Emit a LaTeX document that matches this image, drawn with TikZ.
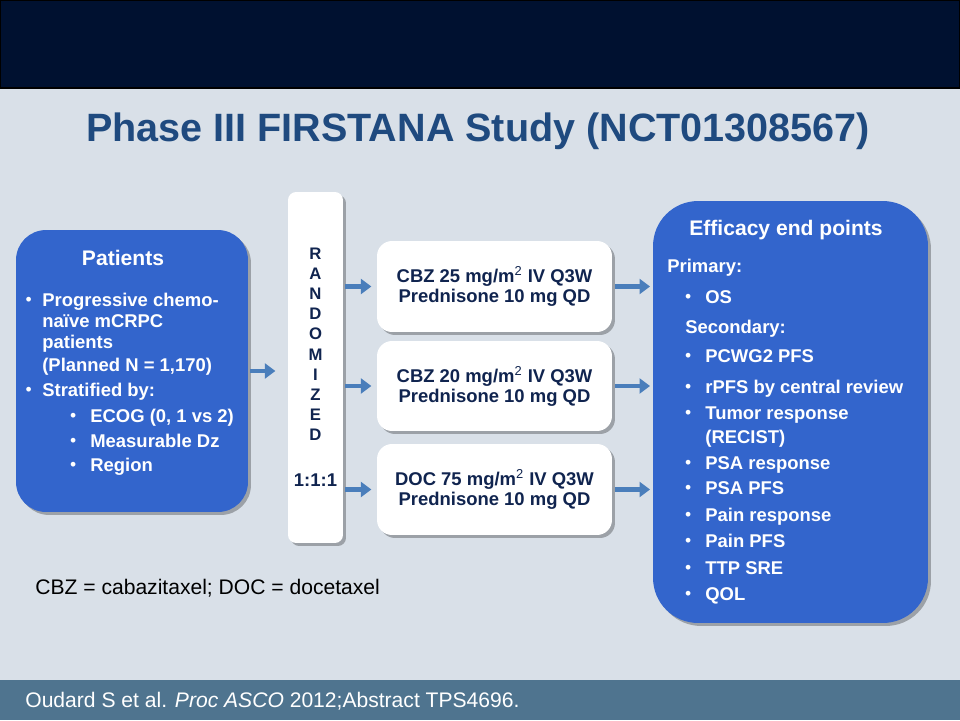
\documentclass[tikz,border=0pt]{standalone}
\usepackage{fontspec}
\setmainfont{Liberation Sans}
\usetikzlibrary{arrows.meta,shadows}

\definecolor{topband}{HTML}{001130}
\definecolor{slidebg}{HTML}{D9E0E8}
\definecolor{titleblue}{HTML}{1F4A7F}
\definecolor{boxblue}{HTML}{3365CC}
\definecolor{armnavy}{HTML}{10244F}
\definecolor{arrowblue}{HTML}{4A7EBB}
\definecolor{footband}{HTML}{4F748F}

% small bullet hung to the left of the item text
\newcommand\itm[1]{\llap{\raisebox{0.3pt}{\fontsize{10}{10}\selectfont\mdseries\textbullet}\hspace{#1}}}
\newcommand\sqm{\textsuperscript{\mdseries 2}}

\begin{document}
\begin{tikzpicture}[x=0.02cm,y=-0.02cm,
  boxshadow/.style={drop shadow={shadow xshift=1.7pt,shadow yshift=-1.7pt,fill=black,opacity=0.28}},
  bluebox/.style={fill=boxblue,boxshadow},
  whitebox/.style={fill=white,boxshadow},
  txt/.style={inner sep=0pt,anchor=base west,font=\fontsize{10.5}{12}\selectfont\bfseries},
  wtxt/.style={txt,text=white},
  head/.style={inner sep=0pt,anchor=base,text=white,font=\fontsize{12}{14}\selectfont\bfseries},
  armtxt/.style={align=center,text=armnavy,font=\fontsize{10.5}{11.4}\selectfont\bfseries},
  randletter/.style={inner sep=0pt,anchor=base,text=armnavy,font=\fontsize{9.5}{10}\selectfont\bfseries},
  flow/.style={draw=arrowblue,line width=2.3pt,-{Triangle[length=6pt,width=8.5pt]}}]

  % slide background and bands
  \useasboundingbox (0,0) rectangle (960,720);
  \fill[slidebg] (0,0) rectangle (960,720);
  \filldraw[fill=topband,draw=black,line width=0.8pt] (0,0) rectangle (960,88);
  \fill[footband] (0,680) rectangle (960,720);

  \node[inner sep=0pt,anchor=base,text=titleblue,font=\fontsize{22.5}{26}\selectfont\bfseries]
    (title) at (478,141) {Phase III FIRSTANA Study (NCT01308567)};

  % boxes
  \node[bluebox,rounded corners=0.6cm,minimum width=4.64cm,minimum height=5.64cm] (patients) at (132,371) {};
  \node[whitebox,rounded corners=0.16cm,minimum width=1.1cm,minimum height=7.02cm] (rand) at (315.5,367.5) {};
  \node[whitebox,rounded corners=0.3cm,minimum width=4.7cm,minimum height=1.82cm,armtxt] (armA) at (494.5,286.5)
    {CBZ 25 mg/m\sqm{} IV Q3W\\Prednisone 10 mg QD};
  \node[whitebox,rounded corners=0.3cm,minimum width=4.7cm,minimum height=1.8cm,armtxt] (armB) at (494.5,386)
    {CBZ 20 mg/m\sqm{} IV Q3W\\Prednisone 10 mg QD};
  \node[whitebox,rounded corners=0.3cm,minimum width=4.7cm,minimum height=1.82cm,armtxt] (armC) at (494.5,489.5)
    {DOC 75 mg/m\sqm{} IV Q3W\\Prednisone 10 mg QD};
  \node[bluebox,rounded corners=0.9cm,minimum width=5.5cm,minimum height=8.44cm] (efficacy) at (790.5,412) {};

  % patients text
  \node[head] (pthead) at (123,265) {Patients};
  \node[wtxt] (p1) at (42,306) {\itm{6pt}Progressive chemo-};
  \node[wtxt] (p2) at (42,327) {naïve mCRPC};
  \node[wtxt] (p3) at (42,348) {patients};
  \node[wtxt] (p4) at (42,371) {(Planned N = 1,170)};
  \node[wtxt] (p5) at (42,396) {\itm{6pt}Stratified by:};
  \node[wtxt] (p6) at (90,422) {\itm{8pt}ECOG (0, 1 vs 2)};
  \node[wtxt] (p7) at (90,447) {\itm{8pt}Measurable Dz};
  \node[wtxt] (p8) at (90,471) {\itm{8pt}Region};

  % randomization column
  \foreach \ch [count=\i from 0] in {R,A,N,D,O,M,I,Z,E,D}
    \node[randletter] (r\i) at (315.5,259+20.2*\i) {\ch};
  \node[txt,anchor=base,text=armnavy] (ratio) at (315.5,486) {1:1:1};

  % end points text
  \node[head] (efhead) at (786,235) {Efficacy end points};
  \node[wtxt] (e1) at (667,272) {Primary:};
  \node[wtxt] (e2) at (705,303) {\itm{8pt}OS};
  \node[wtxt] (e3) at (685,333) {Secondary:};
  \node[wtxt] (e4) at (705,362) {\itm{8pt}PCWG2 PFS};
  \node[wtxt] (e5) at (705,393) {\itm{8pt}rPFS by central review};
  \node[wtxt] (e6) at (705,419) {\itm{8pt}Tumor response};
  \node[wtxt] (e7) at (705,443) {(RECIST)};
  \node[wtxt] (e8) at (705,469) {\itm{8pt}PSA response};
  \node[wtxt] (e9) at (705,494) {\itm{8pt}PSA PFS};
  \node[wtxt] (e10) at (705,521) {\itm{8pt}Pain response};
  \node[wtxt] (e11) at (705,547) {\itm{8pt}Pain PFS};
  \node[wtxt] (e12) at (705,574) {\itm{8pt}TTP SRE};
  \node[wtxt] (e13) at (705,600) {\itm{8pt}QOL};

  % arrows
  \draw[flow,shorten <=1pt,shorten >=7pt] (patients.east) -- (patients.east -| rand.west);
  \draw[flow,shorten <=1pt,shorten >=3pt] (rand.east |- armA.west) -- (armA.west);
  \draw[flow,shorten <=1pt,shorten >=3pt] (rand.east |- armB.west) -- (armB.west);
  \draw[flow,shorten <=1pt,shorten >=3pt] (rand.east |- armC.west) -- (armC.west);
  \draw[flow,shorten <=1.5pt,shorten >=1.5pt] (armA.east) -- (armA.east -| efficacy.west);
  \draw[flow,shorten <=1.5pt,shorten >=1.5pt] (armB.east) -- (armB.east -| efficacy.west);
  \draw[flow,shorten <=1.5pt,shorten >=1.5pt] (armC.east) -- (armC.east -| efficacy.west);

  % notes
  \node[inner sep=0pt,anchor=base west,font=\fontsize{12}{14}\selectfont] (abbr) at (35,594)
    {CBZ = cabazitaxel; DOC = docetaxel};
  \node[inner sep=0pt,anchor=base west,text=white,font=\fontsize{12}{14}\selectfont] (cite) at (25,707)
    {Oudard S et al. \textit{Proc ASCO} 2012;Abstract TPS4696.};
\end{tikzpicture}
\end{document}
